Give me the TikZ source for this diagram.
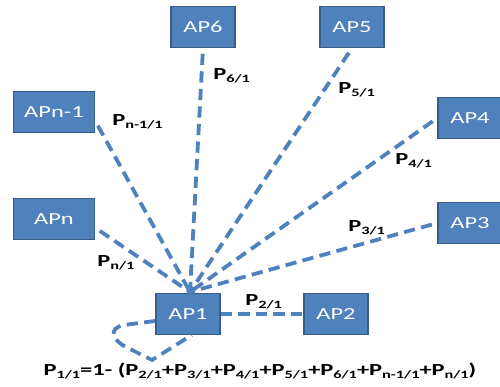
\documentclass[tikz,border=0pt]{standalone}
\usepackage{fontspec}
\usepackage{graphicx}
\setmainfont{Carlito}
\usetikzlibrary{positioning,calc}

\definecolor{apblue}{HTML}{4F81BD}
\definecolor{apedge}{HTML}{385D8A}

% text is set wide, as in the figure
\newcommand{\wide}[1]{\scalebox{1.45}[1]{#1}}
% label P with a lowered subscript
\newcommand{\prob}[1]{\textbf{P}{\bfseries\footnotesize\raisebox{-0.45ex}{#1}}}

\begin{document}
\begin{tikzpicture}[
    x=0.025cm, y=-0.025cm,
    ap/.style={rectangle, draw=apedge, line width=1pt, fill=apblue, text=white, font=\large, minimum height=1.02cm, inner sep=0pt},
    apbig/.style={ap, minimum width=2.02cm},
    apsmall/.style={ap, minimum width=1.6cm},
    link/.style={draw=apblue, line width=2.7pt, dash pattern=on 8pt off 4.5pt},
    lbl/.style={font=\large, anchor=west, inner sep=0pt}
]
\useasboundingbox (0,0) rectangle (500,387);

% Access points
\node[apsmall] (ap6) at (203,27) {\wide{AP6}};
\node[apsmall] (ap5) at (352,27) {\wide{AP5}};
\node[apbig] (apn1) at (54,112) {\wide{APn-1}};
\node[apsmall] (ap4) at (470,118) {\wide{AP4}};
\node[apbig] (apn) at (54,219) {\wide{APn}};
\node[apsmall] (ap3) at (470,223) {\wide{AP3}};
\node[apsmall] (ap1) at (188,314) {\wide{AP1}};
\node[apsmall] (ap2) at (336,314) {\wide{AP2}};

% Meeting point on top of AP1
\coordinate (hub) at (190,292);

% Links
\foreach \i/\a in {ap6/south, ap5/south, apn1/-12, ap4/west, apn/-12, ap3/west} {
    \draw[link, shorten <=4pt] (\i.\a) -- (hub);
}
\draw[link] (ap1) -- (ap2);

% Self loop
\draw[link] (ap1.192) -- (124,325) .. controls (108,328) and (112,340) .. (126,347) -- (152,360) -- (ap1.-80);

% Probabilities
\node[lbl] (p6) at (213,76) {\wide{\prob{6/1}}};
\node[lbl] (p5) at (338,90) {\wide{\prob{5/1}}};
\node[lbl] (pn1) at (112,122) {\wide{\prob{n-1/1}}};
\node[lbl] (p4) at (395,161) {\wide{\prob{4/1}}};
\node[lbl] (p3) at (348,228) {\wide{\prob{3/1}}};
\node[lbl] (pn) at (97,263) {\wide{\prob{n/1}}};
\node[lbl] (p2) at (245,302) {\wide{\prob{2/1}}};

% Formula
\node[lbl, anchor=center] (pform) at (260,371) {\wide{\prob{1/1}\textbf{=1- (}\prob{2/1}\textbf{+}\prob{3/1}\textbf{+}\prob{4/1}\textbf{+}\prob{5/1}\textbf{+}\prob{6/1}\textbf{+}\prob{n-1/1}\textbf{+}\prob{n/1}\textbf{)}}};

\end{tikzpicture}
\end{document}
